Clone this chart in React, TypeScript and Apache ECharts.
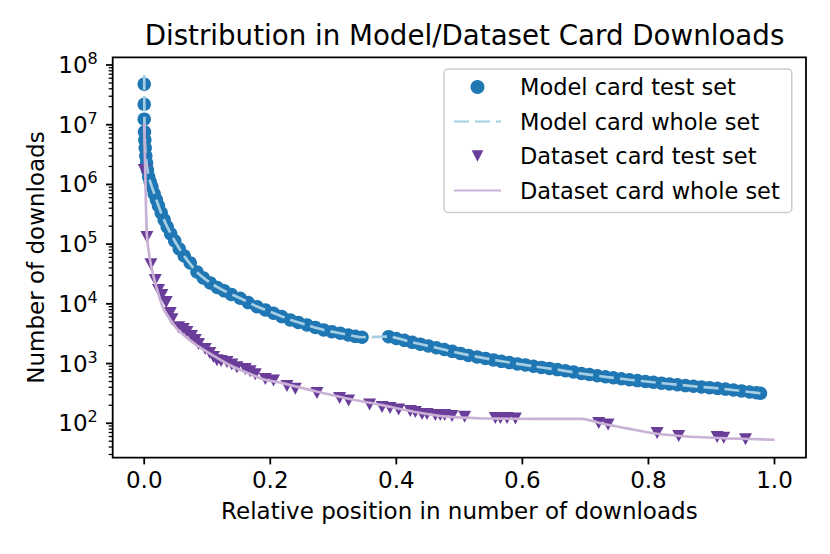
import React, { useEffect, useRef } from "react";
import * as echarts from "echarts";

// ---------- data (relative position, downloads) ----------
const MODEL_TEST: [number, number][] = [
  [0.0, 4.77e7], [0.0, 2.2e7], [0.0, 1.24e7],
  [0.0005, 7.57e6], [0.001, 5.56e6], [0.0016, 4.08e6], [0.0025, 3.0e6], [0.0037, 2.29e6],
  [0.0051, 1.75e6], [0.0071, 1.34e6], [0.0095, 1.1e6], [0.0122, 9.08e5], [0.0159, 6.93e5],
  [0.0194, 5.5e5], [0.0227, 4.36e5], [0.027, 3.33e5], [0.0317, 2.54e5], [0.0365, 1.94e5],
  [0.0421, 1.48e5], [0.0484, 1.13e5], [0.0556, 8.3e4], [0.0635, 6.34e4], [0.073, 4.84e4],
  [0.0837, 3.42e4], [0.0937, 2.72e4], [0.1048, 2.24e4], [0.1159, 1.88e4], [0.127, 1.65e4],
  [0.1381, 1.44e4], [0.1524, 1.24e4], [0.1651, 1.05e4], [0.1789, 8.97e3], [0.1921, 7.91e3],
  [0.2052, 6.96e3], [0.2183, 6.11e3], [0.2317, 5.38e3], [0.2444, 4.88e3], [0.2582, 4.43e3],
  [0.2714, 4.03e3], [0.2846, 3.66e3], [0.2976, 3.42e3], [0.3111, 3.22e3], [0.3238, 3.01e3],
  [0.3349, 2.86e3], [0.3456, 2.76e3],
  [0.3878, 2.82e3], [0.4, 2.63e3], [0.4127, 2.45e3], [0.4254, 2.27e3], [0.4381, 2.11e3],
  [0.4508, 1.97e3], [0.4635, 1.84e3], [0.4762, 1.72e3], [0.4889, 1.6e3], [0.5016, 1.48e3],
  [0.5143, 1.37e3], [0.5281, 1.29e3], [0.5413, 1.22e3], [0.554, 1.15e3], [0.5667, 1.09e3],
  [0.5794, 1.04e3], [0.5921, 985], [0.6048, 948], [0.6175, 902], [0.6302, 861],
  [0.6429, 828], [0.6556, 794], [0.6683, 757], [0.681, 723], [0.6937, 682],
  [0.7063, 656], [0.719, 625], [0.7317, 601], [0.7444, 578], [0.7571, 556],
  [0.7698, 536], [0.7825, 519], [0.7952, 501], [0.8079, 486], [0.8206, 470],
  [0.8333, 455], [0.846, 442], [0.8587, 428], [0.8714, 417], [0.8841, 406],
  [0.8968, 395], [0.9095, 384], [0.9222, 374], [0.9349, 361], [0.9476, 348],
  [0.9603, 334], [0.9714, 324], [0.9778, 318],
];

const MODEL_WHOLE: [number, number][] = [
  [0.0, 6.8e7], [0.0003, 1.5e7], [0.0006, 7.5e6], [0.0016, 4.0e6], [0.0037, 2.3e6],
  [0.0071, 1.34e6], [0.0122, 9.1e5], [0.0194, 5.5e5], [0.027, 3.3e5], [0.0365, 1.94e5],
  [0.0484, 1.13e5], [0.0635, 6.3e4], [0.0837, 3.4e4], [0.1048, 2.24e4], [0.127, 1.65e4],
  [0.1524, 1.24e4], [0.1789, 9.0e3], [0.2052, 7.0e3], [0.2317, 5.4e3], [0.2582, 4.4e3],
  [0.2846, 3.66e3], [0.3111, 3.22e3], [0.3349, 2.86e3], [0.3456, 2.76e3], [0.3878, 2.82e3],
  [0.4254, 2.27e3], [0.4635, 1.84e3], [0.5016, 1.48e3], [0.5413, 1.22e3], [0.5794, 1.04e3],
  [0.6175, 900], [0.6556, 790], [0.6937, 680], [0.7317, 600], [0.7698, 536],
  [0.8079, 486], [0.846, 442], [0.8841, 406], [0.9222, 374], [0.9603, 334], [0.9778, 318],
];

const DATASET_TEST: [number, number][] = [
  [0.0, 1.75e6], [0.0043, 1.32e5], [0.0106, 4.6e4], [0.0175, 2.5e4], [0.0227, 1.7e4],
  [0.0281, 1.4e4], [0.0349, 1.07e4], [0.0413, 7.0e3], [0.044, 5.5e3], [0.0545, 4.05e3],
  [0.062, 3.8e3], [0.0678, 3.37e3], [0.075, 2.9e3], [0.081, 2.47e3], [0.0862, 2.12e3],
  [0.0968, 1.75e3], [0.104, 1.5e3], [0.11, 1.29e3], [0.1154, 1.14e3], [0.122, 1.1e3],
  [0.1313, 1.06e3], [0.139, 960], [0.1471, 870], [0.1603, 810], [0.168, 740],
  [0.1762, 660], [0.1921, 550], [0.2052, 520], [0.2265, 420], [0.2397, 380],
  [0.2741, 320], [0.31, 265], [0.3243, 240], [0.3576, 207], [0.3773, 188],
  [0.39, 180], [0.4037, 170], [0.4222, 161], [0.4302, 155], [0.4408, 143],
  [0.4487, 143], [0.4619, 138], [0.4698, 138], [0.4767, 138], [0.4884, 132],
  [0.5084, 128], [0.5571, 123], [0.5651, 123], [0.5757, 123], [0.5889, 120],
  [0.7211, 101], [0.736, 95], [0.8138, 69], [0.8481, 61], [0.909, 59],
  [0.9195, 57], [0.954, 54],
];

const DATASET_WHOLE: [number, number][] = [
  [0.0, 1.07e7], [0.0016, 1.7e6], [0.0043, 1.4e5], [0.0106, 4.5e4], [0.02, 1.8e4],
  [0.0306, 8.3e3], [0.052, 3.8e3], [0.084, 2.0e3], [0.137, 930], [0.19, 540],
  [0.216, 480], [0.269, 350], [0.322, 260], [0.375, 203], [0.428, 156],
  [0.48, 129], [0.533, 121], [0.629, 118], [0.692, 118], [0.708, 112],
  [0.724, 100], [0.766, 82], [0.808, 68], [0.861, 60], [0.925, 56], [1.0, 53],
];

const X_TICKS = [0, 0.2, 0.4, 0.6, 0.8, 1.0];
const Y_TICKS = [1e2, 1e3, 1e4, 1e5, 1e6, 1e7, 1e8];
const Y_MINOR_MULT = [2, 3, 4, 5, 6, 7, 8, 9];
const Y_MINOR_DECADES = [1e1, 1e2, 1e3, 1e4, 1e5, 1e6, 1e7];
const Y_RANGE = [26.5, 1.346e8];
const X_RANGE = [-0.05, 1.05];

const TITLE = "Distribution in Model/Dataset Card Downloads";
const X_NAME = "Relative position in number of downloads";
const Y_NAME = "Number of downloads";
const NAMES = [
  "Model card test set",
  "Model card whole set",
  "Dataset card test set",
  "Dataset card whole set",
];

const FONT = "DejaVu Sans";
const TRI = "path://M0,0L2,0L1,2Z";
const TRI_LEGEND = "path://M-0.2,-0.2M2.2,2.2M0,0L2,0L1,2Z";
const HIDDEN = { color: "rgba(0,0,0,0)", borderColor: "rgba(0,0,0,0)", borderWidth: 0 };

// log10 transform so the value axis behaves like a base-10 log axis
const lg = (v: number) => Math.log10(v);
const toLog = (arr: [number, number][]) => arr.map(([x, v]) => [x, lg(v)]);

// tick marks drawn through the axes' own coordinate system
function tickSeries(name: string, data: number[][], dir: "x" | "y", len: number, width: number) {
  return {
    name,
    type: "custom",
    data,
    clip: false,
    silent: true,
    z: 10,
    renderItem: (_p: any, api: any) => {
      const pt = api.coord([api.value(0), api.value(1)]);
      const shape =
        dir === "y"
          ? { x1: pt[0] - len, y1: pt[1], x2: pt[0], y2: pt[1] }
          : { x1: pt[0], y1: pt[1], x2: pt[0], y2: pt[1] + len };
      return { type: "line", shape, style: { stroke: "#000", lineWidth: width } };
    },
  };
}

export default function App() {
  const ref = useRef<HTMLDivElement>(null);
  useEffect(() => {
    if (!ref.current) return;
    const chart = echarts.init(ref.current, null, { renderer: "svg" });
    const yMin = lg(Y_RANGE[0]);
    const yMax = lg(Y_RANGE[1]);
    const minor: number[] = [];
    Y_MINOR_DECADES.forEach((d) => Y_MINOR_MULT.forEach((m) => minor.push(lg(m * d))));
    const minorIn = minor.filter((v) => v >= yMin && v <= yMax);
    const majorIn = Y_TICKS.map(lg);

    chart.setOption({
      animation: false,
      backgroundColor: "#ffffff",
      title: {
        text: TITLE,
        left: 459.5,
        top: 16,
        textAlign: "center",
        textStyle: { fontFamily: FONT, fontSize: 27.7, fontWeight: "normal", color: "#000" },
      },
      legend: {
        orient: "vertical",
        left: 444,
        top: 69,
        padding: [6, 12, 10, 9],
        itemGap: 10.5,
        itemWidth: 47,
        itemHeight: 14,
        borderColor: "#cccccc",
        borderWidth: 1.5,
        borderRadius: 4,
        backgroundColor: "rgba(255,255,255,0.8)",
        textStyle: { fontFamily: FONT, fontSize: 22.5, color: "#000", lineHeight: 24, padding: [0, 0, 0, 14] },
        data: [
          { name: NAMES[0], icon: "circle" },
          { name: NAMES[1], itemStyle: HIDDEN },
          { name: NAMES[2], icon: TRI_LEGEND },
          { name: NAMES[3], itemStyle: HIDDEN },
        ],
      },
      grid: { left: 112.7, top: 57.3, right: 24, bottom: 96.3, show: true, borderColor: "#000", borderWidth: 1.8, containLabel: false },
      xAxis: {
        type: "value",
        min: X_RANGE[0],
        max: X_RANGE[1],
        name: X_NAME,
        nameLocation: "middle",
        nameGap: 42,
        nameTextStyle: { fontFamily: FONT, fontSize: 23, color: "#000" },
        axisLine: { show: false, onZero: false },
        splitLine: { show: false },
        axisTick: { show: false },
        axisLabel: {
          customValues: X_TICKS,
          margin: 11,
          fontFamily: FONT,
          fontSize: 23,
          color: "#000",
          formatter: (v: number) => v.toFixed(1),
        },
      },
      yAxis: {
        type: "value",
        min: yMin,
        max: yMax,
        position: "left",
        name: Y_NAME,
        nameLocation: "middle",
        nameGap: 64,
        nameTextStyle: { fontFamily: FONT, fontSize: 23, color: "#000" },
        axisLine: { show: false, onZero: false },
        splitLine: { show: false },
        axisTick: { show: false },
        axisLabel: {
          customValues: majorIn,
          margin: 15,
          formatter: (v: number) => "{b|10}{s|" + Math.round(v) + "}",
          rich: {
            b: { fontFamily: FONT, fontSize: 23, color: "#000", lineHeight: 23, verticalAlign: "bottom" },
            s: { fontFamily: FONT, fontSize: 16, color: "#000", lineHeight: 16, verticalAlign: "bottom", padding: [0, 0, 10, 0] },
          },
        },
      },
      series: [
        {
          name: NAMES[0],
          type: "scatter",
          data: toLog(MODEL_TEST),
          symbol: "circle",
          symbolSize: 13.5,
          itemStyle: { color: "#1f77b4", opacity: 1 },
          z: 2,
          emphasis: { disabled: true },
        },
        {
          name: NAMES[2],
          type: "scatter",
          data: toLog(DATASET_TEST),
          symbol: TRI,
          symbolSize: [13, 12],
          symbolKeepAspect: false,
          itemStyle: { color: "#6a3d9a", opacity: 1 },
          z: 3,
          emphasis: { disabled: true },
        },
        {
          name: NAMES[1],
          type: "line",
          data: toLog(MODEL_WHOLE),
          showSymbol: false,
          symbol: "none",
          smooth: 0.2,
          itemStyle: { color: "#a6cee3" },
          lineStyle: { color: "#a6cee3", width: 2.7, type: [15, 6] },
          z: 4,
          emphasis: { disabled: true },
        },
        {
          name: NAMES[3],
          type: "line",
          data: toLog(DATASET_WHOLE),
          showSymbol: false,
          symbol: "none",
          smooth: 0.2,
          itemStyle: { color: "#cab2d6" },
          lineStyle: { color: "#cab2d6", width: 2.7 },
          z: 5,
          emphasis: { disabled: true },
        },
        tickSeries("yMajorTicks", majorIn.map((v) => [X_RANGE[0], v]), "y", 6.7, 1.8),
        tickSeries("yMinorTicks", minorIn.map((v) => [X_RANGE[0], v]), "y", 4, 1.3),
        tickSeries("xMajorTicks", X_TICKS.map((v) => [v, yMin]), "x", 6.7, 1.8),
      ],
    });
    return () => chart.dispose();
  }, []);
  return <div ref={ref} style={{ position: "fixed", left: 0, top: 0, width: 830, height: 554 }} />;
}
